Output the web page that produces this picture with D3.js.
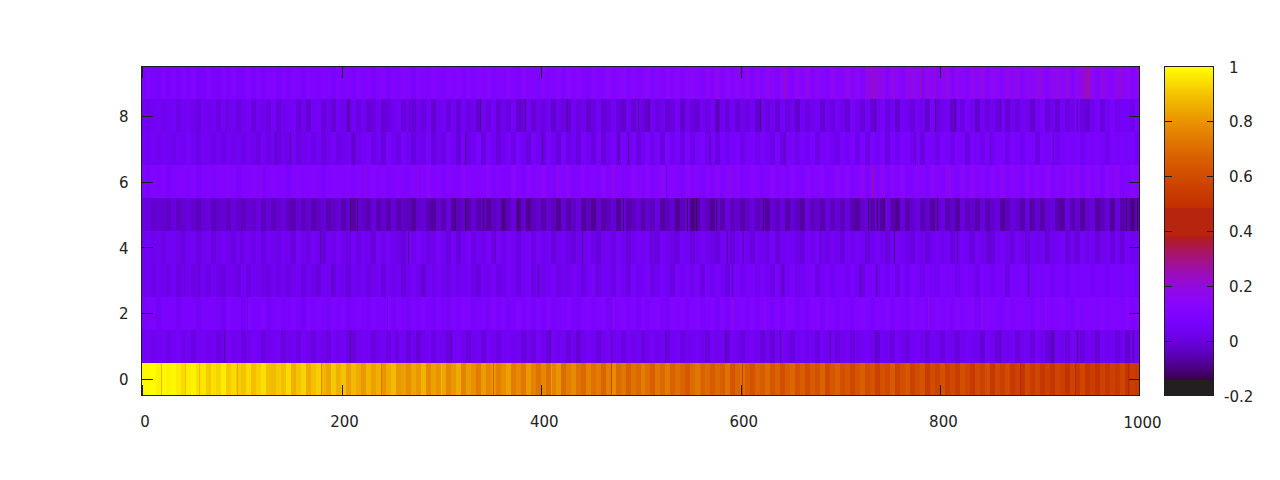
<!DOCTYPE html>
<html>
<head>
<meta charset="utf-8">
<script src="https://cdnjs.cloudflare.com/ajax/libs/d3/7.8.5/d3.min.js"></script>
<style>
  html, body { margin: 0; padding: 0; background: #fff; }
  svg { display: block; }
  text { font-family: "DejaVu Sans", sans-serif; font-size: 15px; fill: #222; }
</style>
</head>
<body>
<div id="plot"></div>
<script>
// All values are estimated by eye from the picture, in hundredths.
// Each row is read in 5 column bins, the 1 column stripes are listed separately

let xTicks = [0, 200, 400, 600, 800, 1000];
let yTicks = [0, 2, 4, 6, 8];
let cbTicks = [-0.2, 0, 0.2, 0.4, 0.6, 0.8, 1];

let row0 = [
  99,99,100,98,99,98,99,97,94,97,98,95,96,91,95,93,97,91,94,92,
  90,94,89,92,95,89,88,91,89,94,86,90,93,85,89,92,87,84,91,86,
  90,83,88,85,81,87,83,86,80,85,88,81,83,79,84,81,87,78,83,80,
  84,77,81,85,76,82,79,74,82,77,80,75,79,83,74,78,73,81,76,72,
  77,71,76,80,70,75,78,72,69,76,71,74,68,75,78,70,73,67,72,69,
  75,71,66,73,69,74,67,71,68,64,70,73,67,70,65,69,66,72,63,68,
  71,66,62,68,65,70,63,67,61,66,69,62,66,60,65,62,68,59,64,67,
  61,64,58,63,66,60,63,56,62,59,65,57,61,64,56,60,63,54,60,57,
  62,55,59,54,61,58,53,60,56,61,52,59,55,60,53,57,51,59,54,58,
  52,56,51,58,55,50,57,53,58,51,55,50,57,52,56,53,58,51,55,53
];
let row1 = [
  4,5,3,4,5,2,4,5,3,4,1,4,5,3,4,1,2,5,3,4,
  1,3,5,4,1,3,4,5,1,3,4,1,5,3,1,4,3,1,5,3,
  4,1,0,3,5,4,1,3,4,1,5,3,4,0,3,-1,3,5,1,4,
  3,0,4,5,3,0,3,4,0,5,3,1,4,5,3,4,0,3,1,5,
  3,0,5,3,4,0,3,-1,3,5,4,0,3,5,3,4,1,5,3,4,
  0,3,5,3,4,0,4,5,1,3,4,5,3,0,5,3,4,0,5,3,
  1,4,5,3,0,3,-1,4,5,3,0,4,5,3,4,0,5,3,4,1,
  3,5,0,3,4,5,3,-1,4,3,0,5,3,1,4,5,3,0,4,3,
  0,5,3,0,3,5,4,3,-1,5,3,0,4,3,5,0,3,4,0,5,
  3,0,-1,4,3,0,5,3,0,4,3,-1,5,3,4,0,3,-2,3,4
];
let row2 = [
  6,7,8,5,7,8,7,5,7,8,8,5,7,8,8,6,5,9,7,8,
  5,9,7,7,9,5,7,9,6,8,9,7,5,9,7,9,7,6,9,7,
  9,6,8,9,8,6,9,7,8,9,6,9,8,6,9,7,9,8,6,9,
  8,6,9,8,10,9,6,8,9,6,10,8,9,6,8,10,8,9,6,9,
  8,10,6,8,9,10,8,6,9,10,8,9,10,6,8,9,11,8,9,6,
  10,8,9,10,8,6,10,9,11,8,9,10,8,9,11,6,10,8,11,9,
  10,7,10,8,11,9,7,10,8,12,10,7,9,8,10,11,7,12,9,8,
  10,9,7,10,12,9,7,10,9,12,7,10,9,7,12,9,10,7,9,12,
  9,11,7,12,9,10,12,7,9,12,10,9,7,12,9,11,10,9,7,12,
  9,11,9,10,12,9,7,12,9,11,10,9,12,9,11,10,9,12,9,10
];
let row3 = [
  3,4,2,4,3,2,4,1,2,4,1,2,4,1,4,2,1,4,3,1,
  4,1,4,3,2,1,4,2,4,1,3,4,1,4,2,0,4,3,1,4,
  3,0,4,3,5,1,3,4,0,5,3,4,0,3,5,3,0,4,3,5,
  3,2,5,3,4,5,2,0,5,3,5,2,3,6,4,1,5,6,2,4,
  3,5,6,2,4,3,6,4,1,5,6,2,4,5,2,6,4,1,6,4,
  5,6,2,4,6,4,1,6,4,6,3,6,1,6,4,6,4,1,6,6,
  4,6,7,3,7,5,2,6,1,5,7,3,5,6,7,2,5,8,4,6,
  7,5,7,4,2,7,8,4,7,5,7,2,7,4,8,6,3,7,6,5,
  7,6,8,3,6,8,6,3,8,6,5,8,6,2,8,6,8,5,6,8,
  6,8,5,8,7,5,8,6,8,7,5,8,7,5,8,7,6,8,7,5
];
let row4 = [
  3,4,3,4,2,4,4,3,1,4,4,1,3,4,1,3,5,3,1,4,
  3,5,2,4,1,5,3,2,5,3,0,5,3,2,5,3,0,4,3,5,
  3,1,5,2,5,3,0,5,3,5,3,2,0,5,3,6,4,2,3,6,
  4,1,5,0,4,6,2,4,3,6,2,5,3,6,4,1,5,6,2,5,
  3,5,0,3,5,2,0,3,4,5,2,0,3,5,2,5,3,0,3,5,
  4,5,2,0,5,3,2,0,5,4,0,3,5,3,2,0,5,3,0,4,
  5,3,0,5,3,2,5,0,3,5,4,2,0,5,3,5,4,2,5,3,
  0,5,3,5,4,0,3,5,3,0,3,5,4,2,0,5,3,0,4,5,
  3,5,0,3,5,4,0,5,3,2,0,4,5,3,0,5,3,0,4,3,
  5,0,3,4,5,0,3,0,5,3,4,0,3,5,0,4,0,5,3,4
];
let row5 = [
  0,0,-2,-1,-2,-3,0,-3,-2,0,-2,-4,-1,0,-4,-2,-1,-4,0,-2,
  -4,-1,-2,0,-4,-1,-4,-2,0,-4,-5,-1,-4,-2,-5,-3,-1,-5,-3,-1,
  -5,-2,-6,-1,-3,-5,0,-5,-2,-6,-1,-5,-3,-4,-7,-2,-1,-5,-7,-2,
  -5,0,-7,-4,-2,-6,-1,-5,-3,-7,-4,-2,-8,-4,0,-7,-2,-8,-4,-2,
  -6,-2,-4,-8,-1,-6,-3,0,-7,-4,-8,-2,-6,-4,-1,-7,0,-6,-4,-1,
  -6,-2,-4,0,-7,-4,-2,-8,-4,-1,-9,-6,-1,-4,-8,-1,-6,0,-4,-2,
  -6,-3,0,-4,-2,-7,-1,-4,0,-6,-1,-4,-7,0,-4,-2,-6,0,-4,-1,
  -4,0,-5,-7,-2,0,-5,-2,-7,1,-5,-8,0,-6,-2,1,-5,-2,-7,-2,
  0,-5,-2,-7,0,-4,-2,-6,0,-5,-2,0,-7,-4,0,-2,-6,0,-5,-2,
  -6,-1,0,-5,-7,0,-5,-2,-7,-2,0,-7,-4,-1,-8,0,-6,-4,-8,-4
];
let row6 = [
  9,8,10,9,11,8,9,10,11,9,11,8,10,11,9,10,11,12,10,8,
  10,11,12,10,8,10,12,10,11,8,10,12,10,11,12,10,8,11,12,10,
  10,12,9,12,10,11,13,10,12,9,10,12,11,9,12,10,12,14,10,12,
  9,12,11,9,14,12,10,11,12,14,9,12,11,9,14,11,9,13,11,12,
  14,11,9,13,12,14,9,11,13,11,12,9,14,11,13,12,9,11,14,12,
  11,13,9,12,14,11,13,12,9,14,11,12,9,13,11,14,9,12,11,13,
  9,11,13,12,9,11,14,11,12,9,13,11,9,14,11,12,13,9,11,14,
  11,13,9,12,15,9,13,11,15,9,13,11,14,9,11,13,12,9,14,12,
  11,15,12,9,14,11,15,11,13,9,13,11,15,11,13,12,9,14,11,13,
  11,15,9,13,11,14,12,15,9,14,11,13,9,14,12,15,9,11,13,12
];
let row7 = [
  5,4,5,3,5,4,3,5,4,6,4,2,5,4,2,4,2,5,3,4,
  2,5,3,1,5,2,4,1,3,2,5,1,3,5,2,4,1,3,5,2,
  3,5,0,3,5,6,2,4,0,6,4,2,6,4,0,4,3,6,0,4,
  2,6,4,0,6,2,4,7,1,6,4,0,4,6,2,7,4,1,6,4,
  2,6,4,0,6,2,4,0,6,4,1,6,0,4,6,2,7,4,6,1,
  4,7,3,6,1,7,4,6,2,7,2,6,7,3,6,1,7,4,6,8,
  3,6,7,3,7,5,2,7,1,7,6,3,7,5,7,2,6,8,5,2,
  7,5,8,3,7,2,7,5,8,1,7,4,7,8,4,7,1,8,6,3,
  8,6,3,8,6,1,8,6,3,8,5,7,8,3,8,6,4,8,6,1,
  8,6,8,4,6,8,6,8,4,8,6,8,6,3,8,6,8,6,8,4
];
let row8 = [
  4,3,4,5,3,4,5,2,4,5,3,1,5,3,4,1,5,3,4,1,
  3,5,0,4,3,1,5,0,3,4,5,0,3,-1,4,5,0,3,-1,4,
  3,-1,5,1,4,-1,1,4,-1,1,3,5,0,4,-1,3,1,5,-2,3,
  5,0,4,-1,4,1,3,-2,4,1,5,-1,3,1,5,-2,0,4,-1,3,
  1,4,-2,3,1,-1,4,1,3,-2,1,4,-1,1,4,0,-2,4,-1,3,
  1,-2,4,1,3,-1,1,5,-2,3,0,-1,4,1,5,-2,3,0,4,-1,
  3,1,5,-2,4,1,3,-1,5,1,3,-2,4,1,3,5,-1,3,1,5,
  3,-1,6,3,0,5,-1,3,6,1,4,-2,5,3,0,5,3,-2,6,1,
  3,5,-2,4,1,6,3,-2,5,1,4,0,5,-1,3,1,5,3,-2,4,
  6,0,3,-1,5,1,3,6,1,-1,3,6,1,4,7,3,5,5,3,7
];
let row9 = [
  7,9,8,6,10,8,9,6,10,8,10,6,8,10,8,6,10,8,10,7,
  8,10,7,10,8,10,11,7,10,8,11,9,7,11,9,8,11,9,8,11,
  9,11,7,11,9,11,8,11,12,8,11,9,12,10,8,12,10,9,12,10,
  9,12,10,12,9,12,9,12,11,13,9,11,10,13,11,9,13,11,10,9,
  13,11,10,13,9,13,11,13,10,9,13,11,10,14,11,13,14,10,13,11,
  12,14,10,13,11,14,12,14,10,13,14,12,10,15,12,16,11,14,12,14,
  12,15,11,14,10,16,13,11,15,13,11,16,13,17,11,15,13,11,16,13,
  13,17,12,15,11,18,20,14,17,12,18,14,12,17,18,14,12,17,14,12,
  15,18,12,16,14,12,17,14,18,12,16,14,12,17,14,18,12,16,14,18,
  14,12,16,18,14,18,12,16,20,21,16,12,18,15,13,18,14,16,12,15
];
let rows = [row0, row1, row2, row3, row4, row5, row6, row7, row8, row9];

// [column, value] of the thin lines that stand out in each row
let stripes0 = [[20,88],[44,90],[58,88],[96,84],[180,76],[240,72],[300,88],[352,66],[410,82],[470,56],[560,70],[602,54],[880,46],[935,47],[988,46]];
let stripes1 = [[83,-6],[140,-3],[209,-7],[255,-4],[310,-5],[409,-7],[470,-4],[525,-5],[585,-8],[640,-8],[690,-6],[735,-5],[860,-5],[912,-8],[937,-10],[993,-8]];
let stripes2 = [[106,3],[246,2],[472,20],[592,19],[625,18],[788,20],[842,19],[905,18]];
let stripes3 = [[58,-3],[191,-5],[282,-4],[397,-6],[455,-3],[592,-5],[643,-4],[720,-6],[736,-7],[888,-5]];
let stripes4 = [[100,-3],[179,-7],[267,-9],[354,-4],[441,-8],[510,-4],[587,-8],[603,-7],[680,-4],[754,-9],[817,-7],[848,-6],[905,-5]];
let stripes5 = [[209,-13],[216,-14],[314,-12],[324,-14],[342,-13],[362,-12],[377,-14],[482,-14],
  [547,-14],[552,-13],[556,-14],[576,-13],[623,-13],[728,-14],[737,-14],[744,-13],[797,-12],[890,-13],[986,-14],[992,-13],[997,-14]];
let stripes6 = [[120,20],[224,20],[276,21],[416,21],[472,22],[526,2],[590,22],[732,30],[810,20]];
let stripes7 = [[134,-7],[149,-6],[212,-5],[324,-9],[401,-8],[477,-7],[487,-8],[570,-5],[645,-5],[775,-4],[850,-5],[913,-5]];
let stripes8 = [[85,-4],[207,-9],[268,-6],[339,-9],[384,-9],[426,-8],[497,-8],[509,-9],[577,-10],[620,-10],[735,-6],[795,-9],[815,-10],[860,-6],[937,-7]];
let stripes9 = [[645,27],[735,25],[738,23],[780,30],[795,25],[900,22],[946,30],[948,28],[980,24]];
let stripes = [stripes0, stripes1, stripes2, stripes3, stripes4, stripes5, stripes6, stripes7, stripes8, stripes9];

let width = 1280;
let height = 480;
let plot = { left: 141.5, right: 1139.5, top: 66.5, bottom: 395.5 };
let bar = { left: 1164.5, right: 1213.5 };

let xScale = d3.scaleLinear().domain([-0.5, 999.5]).range([plot.left, plot.right]);
let yScale = d3.scaleLinear().domain([-0.5, 9.5]).range([plot.bottom, plot.top]);
let cbScale = d3.scaleLinear().domain([-0.2, 1]).range([plot.bottom, plot.top]);

// gnuplot default palette (rgbformulae 7,5,15), the picture flattened two bands of it
function palette(v) {
    if (v < -0.14) return "#231f20";
    if (v > 0.385 && v < 0.486) return "#b8250f";
    let g = Math.max(0, Math.min(1, (v + 0.2) / 1.2));
    let b = Math.max(0, Math.sin(2 * Math.PI * g));
    return d3.rgb(255 * Math.sqrt(g), 255 * g * g * g, 255 * b).formatHex();
}

let svg = d3.select("#plot").append("svg")
    .attr("width", width)
    .attr("height", height);

// Heatmap cells, one group for each row
rows.forEach(function (row, r) {
    let step = 1000 / row.length;
    let g = svg.append("g").attr("shape-rendering", "crispEdges");

    g.selectAll("rect.cell")
        .data(row)
        .enter()
        .append("rect")
        .attr("class", "cell")
        .attr("x", (d, i) => xScale(i * step - 0.5))
        .attr("width", (d, i) => xScale((i + 1) * step - 0.5) - xScale(i * step - 0.5) + 0.5)
        .attr("y", yScale(r + 0.5))
        .attr("height", yScale(r - 0.5) - yScale(r + 0.5))
        .attr("fill", d => palette(d / 100));

    g.selectAll("rect.stripe")
        .data(stripes[r])
        .enter()
        .append("rect")
        .attr("class", "stripe")
        .attr("x", d => xScale(d[0] - 0.5))
        .attr("width", xScale(1) - xScale(0))
        .attr("y", yScale(r + 0.5))
        .attr("height", yScale(r - 0.5) - yScale(r + 0.5))
        .attr("fill", d => palette(d[1] / 100));
});

// Colorbar, one strip for each pixel row
let cbLevels = d3.range(0, 329).map(i => cbScale.invert(plot.bottom - i - 0.5));
svg.append("g")
    .attr("shape-rendering", "crispEdges")
    .selectAll("rect")
    .data(cbLevels)
    .enter()
    .append("rect")
    .attr("x", bar.left)
    .attr("width", bar.right - bar.left)
    .attr("y", d => cbScale(d) - 0.5)
    .attr("height", 1.2)
    .attr("fill", d => palette(d));

let frameColor = "#221c26";

function drawFrame(x0, x1) {
    svg.append("rect")
        .attr("x", x0)
        .attr("y", plot.top)
        .attr("width", x1 - x0)
        .attr("height", plot.bottom - plot.top)
        .attr("fill", "none")
        .attr("stroke", frameColor)
        .attr("stroke-width", 1)
        .attr("shape-rendering", "crispEdges");
}
drawFrame(plot.left, plot.right);
drawFrame(bar.left, bar.right);

// Axes, ticks point inward on all four sides
let tickLen = 11;

function styleAxis(g) {
    g.select(".domain").remove();
    g.selectAll("line").attr("stroke", frameColor).attr("shape-rendering", "crispEdges");
    g.selectAll("text").style("fill", "#222");
}

svg.append("g")
    .attr("transform", `translate(0,${plot.bottom})`)
    .call(d3.axisBottom(xScale).tickValues(xTicks.filter(d => d < 1000)).tickSize(-tickLen).tickFormat(d3.format("d")))
    .call(styleAxis)
    .selectAll("text")
    .attr("dx", 2.5)
    .attr("y", 21)
    .attr("dy", "0.71em");

svg.append("g")
    .attr("transform", `translate(0,${plot.top})`)
    .call(d3.axisTop(xScale).tickValues(xTicks.filter(d => d < 1000)).tickSize(-tickLen).tickFormat(""))
    .call(styleAxis);

// The 1000 label has no tick of its own, it falls past the end of the range
svg.append("text")
    .attr("x", xScale(1000) + 2.5)
    .attr("y", 428)
    .attr("text-anchor", "middle")
    .text(xTicks[5]);

svg.append("g")
    .attr("transform", `translate(${plot.left},0)`)
    .call(d3.axisLeft(yScale).tickValues(yTicks).tickSize(-tickLen).tickFormat(d3.format("d")))
    .call(styleAxis)
    .selectAll("text")
    .attr("x", -13)
    .attr("dy", "0.37em");

svg.append("g")
    .attr("transform", `translate(${plot.right},0)`)
    .call(d3.axisRight(yScale).tickValues(yTicks).tickSize(-tickLen).tickFormat(""))
    .call(styleAxis);

// Colorbar ticks and labels
let cbInner = cbTicks.filter(d => d > -0.2 && d < 1);

svg.append("g")
    .attr("transform", `translate(${bar.left},0)`)
    .call(d3.axisRight(cbScale).tickValues(cbInner).tickSize(7).tickFormat(""))
    .call(styleAxis);

svg.append("g")
    .attr("transform", `translate(${bar.right},0)`)
    .call(d3.axisLeft(cbScale).tickValues(cbInner).tickSize(7).tickFormat(""))
    .call(styleAxis);

svg.append("g")
    .selectAll("text")
    .data(cbTicks)
    .enter()
    .append("text")
    .attr("x", d => d < -0.1 ? 1224 : 1229)
    .attr("y", d => cbScale(d) + 6)
    .text(d => d);
</script>
</body>
</html>
